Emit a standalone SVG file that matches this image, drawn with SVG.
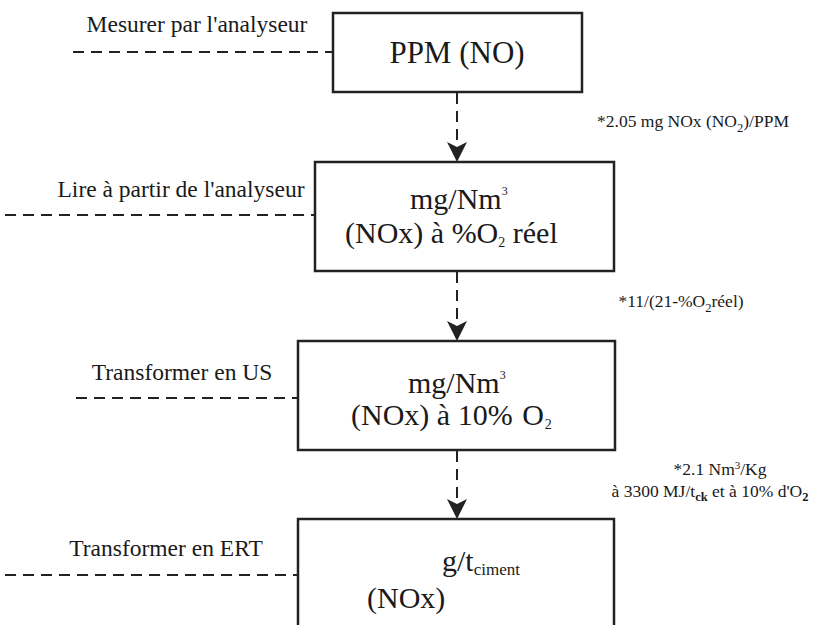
<svg xmlns="http://www.w3.org/2000/svg" width="821" height="625" viewBox="0 0 821 625">
<defs>
<style>
.box{fill:#fff;stroke:#222;stroke-width:2.5}
.dash{fill:none;stroke:#222;stroke-width:2;stroke-dasharray:11 7}
.t{font-family:'Liberation Serif','Times New Roman',Times,serif;fill:#1a1a1a}
.main{font-size:31px}
.mid{font-size:30px}
.side{font-size:23.5px;text-anchor:middle}
.note{font-size:17.5px;text-anchor:middle}
</style>
</defs>
<rect width="821" height="625" fill="#fff"/>
<g id="connectors">
<line class="dash" x1="73" y1="52" x2="333" y2="52"/>
<line class="dash" x1="5" y1="215" x2="315" y2="215"/>
<line class="dash" x1="76" y1="398" x2="298" y2="398"/>
<line class="dash" x1="5" y1="575" x2="298" y2="575"/>
<line class="dash" x1="457" y1="93" x2="457" y2="146"/>
<line class="dash" x1="457" y1="272" x2="457" y2="325"/>
<line class="dash" x1="457" y1="451" x2="457" y2="503"/>
<path d="M447,142 L457,147 L467,142 L457,162 Z" fill="#222"/>
<path d="M447,321 L457,326 L467,321 L457,341 Z" fill="#222"/>
<path d="M447,499 L457,504 L467,499 L457,519 Z" fill="#222"/>
</g>
<g id="node-ppm">
<rect class="box" x="333" y="13" width="249" height="79"/>
<text class="t main" x="457" y="63" text-anchor="middle">PPM (NO)</text>
</g>
<g id="node-mg-reel">
<rect class="box" x="315" y="162" width="299" height="109"/>
<text class="t mid" x="410" y="209">mg/Nm<tspan font-size="12" dy="-14">3</tspan></text>
<text class="t mid" x="345" y="243">(NOx) à %O<tspan font-size="14" dy="4">2</tspan><tspan dy="-4"> réel</tspan></text>
</g>
<g id="node-mg-10">
<rect class="box" x="298" y="341" width="317" height="109"/>
<text class="t mid" x="408" y="393">mg/Nm<tspan font-size="12" dy="-14">3</tspan></text>
<text class="t mid" x="351" y="425">(NOx) à 10% <tspan dx="2">O</tspan><tspan font-size="14" dx="1" dy="4">2</tspan></text>
</g>
<g id="node-g-t">
<path class="box" d="M298,627 L298,519 L614,519 L614,627"/>
<text class="t mid" x="442" y="571">g/t<tspan font-size="17" dy="4">ciment</tspan></text>
<text class="t mid" x="367" y="608">(NOx)</text>
</g>
<g id="labels">
<text class="t side" x="197" y="32">Mesurer par l'analyseur</text>
<text class="t side" x="181" y="197">Lire à partir de l'analyseur</text>
<text class="t side" x="182" y="380">Transformer en US</text>
<text class="t side" x="166" y="556">Transformer en ERT</text>
<text class="t note" x="693" y="127">*2.05 mg NOx (NO<tspan font-size="12.5" dy="5">2</tspan><tspan dy="-5">)/PPM</tspan></text>
<text class="t note" x="681" y="307">*11/(21-%O<tspan font-size="12.5" dy="5">2</tspan><tspan dy="-5">réel)</tspan></text>
<text class="t note" x="720" y="475" font-size="17">*2.1 Nm<tspan font-size="11" dy="-6">3</tspan><tspan dy="6">/Kg</tspan></text>
<text class="t note" x="710" y="497">à 3300 MJ/t<tspan font-size="12.5" font-weight="bold" dy="4">ck</tspan><tspan dy="-4"> et à 10% d'O</tspan><tspan font-size="12.5" font-weight="bold" dy="4">2</tspan></text>
</g>
</svg>
